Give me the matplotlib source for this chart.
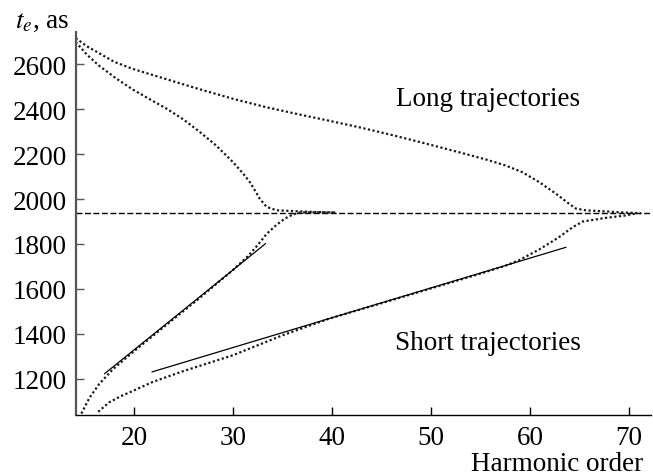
import matplotlib
matplotlib.use('Agg')
from matplotlib import pyplot as plt

plt.rcParams['font.family'] = ['Liberation Serif', 'DejaVu Serif']
plt.rcParams['mathtext.fontset'] = 'stix'

# long trajectories (upper branches)
long1_x = [14.13, 15.3, 16.5, 18.0, 19.9, 23.3, 26.6, 30.0, 33.3, 36.5, 39.6, 42.75, 46.1, 49.5,
           52.8, 55.5, 57.5, 59.2, 60.9, 62.6, 63.9, 64.6, 65.6, 67.6, 70.0, 71.2]
long1_y = [2717, 2680, 2650, 2612, 2580, 2534, 2490, 2447, 2410, 2379, 2350, 2320, 2285, 2247,
           2209, 2177, 2150, 2120, 2076, 2024, 1980, 1958, 1950, 1945, 1939, 1937]
long2_x = [14.13, 15.3, 16.5, 18.2, 19.9, 21.6, 23.3, 25.0, 26.6, 28.3, 30.0, 31.0, 31.7, 32.2,
           32.7, 33.4, 34.4, 36.7, 38.5, 40.4]
long2_y = [2700, 2642, 2594, 2538, 2488, 2445, 2403, 2355, 2301, 2239, 2165, 2115, 2076, 2040,
           2002, 1965, 1950, 1945, 1942, 1940]

# short trajectories (lower branches)
short1_x = [14.7, 15.5, 16.5, 17.9, 19.9, 23.3, 26.6, 30.0, 31.5, 32.5, 33.4, 34.4, 35.2, 36.0,
            36.7, 38.5, 40.4]
short1_y = [1044, 1113, 1176, 1242, 1318, 1440, 1558, 1684, 1745, 1795, 1845, 1885, 1912, 1930,
            1940, 1941, 1940]
short2_x = [16.4, 17.5, 18.7, 19.9, 21.9, 24.9, 30.0, 35.0, 39.7, 45.0, 50.0, 55.0, 57.5, 58.9,
            60.9, 62.9, 64.3, 65.3, 67.6, 69.6, 70.6]
short2_y = [1052, 1094, 1122, 1145, 1185, 1232, 1304, 1393, 1467, 1536, 1602, 1668, 1703, 1728,
            1775, 1830, 1875, 1900, 1916, 1927, 1935]

# straight-line fits
fit1_x = [17.05, 33.28]
fit1_y = [1222, 1801]
fit2_x = [21.85, 63.6]
fit2_y = [1230, 1785]

t_cut = 1938

fig = plt.figure(figsize=(6.53, 4.77), dpi=100)
ax = fig.add_axes([0.117, 0.128, 0.88, 0.803])

ax.axhline(t_cut, color='black', lw=1.0, linestyle=(0, (4.3, 1.8)))
for xs, ys in [(long1_x, long1_y), (long2_x, long2_y), (short1_x, short1_y), (short2_x, short2_y)]:
    ax.plot(xs, ys, color='#1a1a1a', lw=1.6, linestyle=(0, (1, 1.1)))
ax.plot(fit1_x, fit1_y, color='black', lw=0.9)
ax.plot(fit2_x, fit2_y, color='black', lw=0.9)

ax.set_xlim(14.2, 72.2)
ax.set_ylim(1038, 2745)
ax.set_xticks([20, 30, 40, 50, 60, 70])
ax.set_yticks([1200, 1400, 1600, 1800, 2000, 2200, 2400, 2600])

ax.spines['top'].set_visible(False)
ax.spines['right'].set_visible(False)
ax.spines['left'].set_color('#555555')
ax.spines['left'].set_linewidth(1.6)
ax.spines['bottom'].set_linewidth(1.0)
ax.tick_params(axis='both', direction='in', length=6, width=1.0, labelsize=19.5, pad=7)
ax.tick_params(axis='y', color='#555555')

ax.text(0.716, 0.825, 'Long trajectories', transform=ax.transAxes, fontsize=19.5, ha='center', va='center')
ax.text(0.716, 0.19, 'Short trajectories', transform=ax.transAxes, fontsize=19.5, ha='center', va='center')
fig.text(0.023, 0.955, r'$t_e$, as', fontsize=19.5, ha='left', va='center')
fig.text(0.985, 0.027, 'Harmonic order', fontsize=19.5, ha='right', va='center')

plt.savefig('out.png', dpi=100)
